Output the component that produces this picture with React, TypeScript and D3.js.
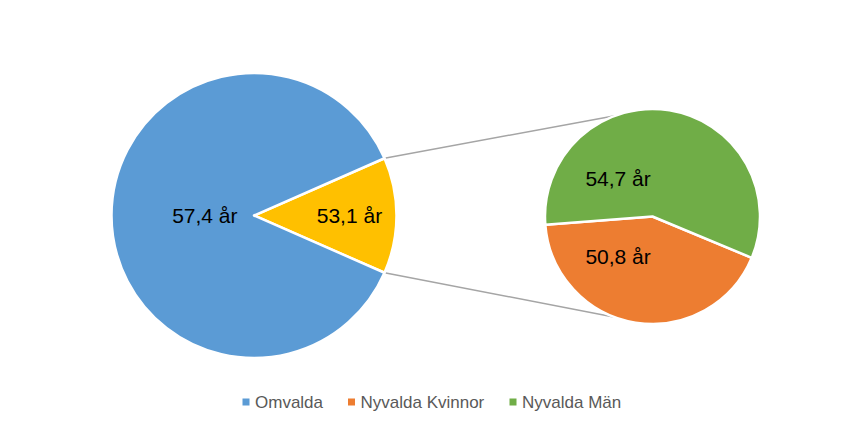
import React from "react";
import * as d3 from "d3";

const mainCategories = ["Nyvalda", "Omvalda"];
const mainValues = [40, 264];
const mainLabels = ["53,1 år", "57,4 år"];
const mainColors = ["#FFC000", "#5B9BD5"];

const subCategories = ["Nyvalda Kvinnor", "Nyvalda Män"];
const subValues = [17, 23];
const subLabels = ["50,8 år", "54,7 år"];
const subColors = ["#ED7D31", "#70AD47"];

const legendItems = ["Omvalda", "Nyvalda Kvinnor", "Nyvalda Män"];
const legendColors = ["#5B9BD5", "#ED7D31", "#70AD47"];

const W = 856;
const H = 433;

export default function App() {
  const mc = { x: 254, y: 215.5, r: 142.5 };
  const sc = { x: 652.5, y: 216.5, r: 107.5 };

  const total = d3.sum(mainValues);
  const yellowSpan = (mainValues[0] / total) * 2 * Math.PI;
  const mainStart = Math.PI / 2 - yellowSpan / 2;
  const mainPie = d3
    .pie<number>()
    .sort(null)
    .startAngle(mainStart)
    .endAngle(mainStart + 2 * Math.PI);
  const mainArcs = mainPie(mainValues);
  const mainArc = d3.arc<d3.PieArcDatum<number>>().innerRadius(0).outerRadius(mc.r);

  const subStart = (112.6 * Math.PI) / 180;
  const subPie = d3
    .pie<number>()
    .sort(null)
    .startAngle(subStart)
    .endAngle(subStart + 2 * Math.PI);
  const subArcs = subPie(subValues);
  const subArc = d3.arc<d3.PieArcDatum<number>>().innerRadius(0).outerRadius(sc.r);

  const pt = (c: { x: number; y: number; r: number }, a: number, f = 1) => [
    c.x + Math.sin(a) * c.r * f,
    c.y - Math.cos(a) * c.r * f,
  ];

  const y0 = mainArcs[0];
  const mTop = pt(mc, y0.startAngle);
  const mBot = pt(mc, y0.endAngle);
  const cAng = (20.4 * Math.PI) / 180;
  const sTop = pt(sc, -cAng);
  const sBot = pt(sc, Math.PI + cAng);

  const labelFont = "'Liberation Sans', Arial, sans-serif";

  // label offsets (fractions of radius)
  const mainLabelPos = [
    [mc.x + 0.67 * mc.r, mc.y],
    [mc.x - 0.345 * mc.r, mc.y],
  ];
  const subLabelPos = [
    [sc.x - 0.32 * sc.r, sc.y + 0.375 * sc.r],
    [sc.x - 0.32 * sc.r, sc.y - 0.35 * sc.r],
  ];

  const legendX = [242.5, 348, 509.5];

  return (
    <svg
      width={W}
      height={H}
      style={{ position: "fixed", left: 0, top: 0, background: "#fff" }}
    >
      <rect width={W} height={H} fill="#fff" />
      <line x1={mTop[0]} y1={mTop[1]} x2={sTop[0]} y2={sTop[1]} stroke="#A5A5A5" strokeWidth={1.5} />
      <line x1={mBot[0]} y1={mBot[1]} x2={sBot[0]} y2={sBot[1]} stroke="#A5A5A5" strokeWidth={1.5} />
      <g transform={`translate(${mc.x},${mc.y})`}>
        {mainArcs.map((a, i) => (
          <path key={mainCategories[i]} d={mainArc(a) || ""} fill={mainColors[i]} stroke="#fff" strokeWidth={2.5} strokeLinejoin="round" />
        ))}
      </g>
      <g transform={`translate(${sc.x},${sc.y})`}>
        {subArcs.map((a, i) => (
          <path key={subCategories[i]} d={subArc(a) || ""} fill={subColors[i]} stroke="#fff" strokeWidth={2.5} strokeLinejoin="round" />
        ))}
      </g>
      {mainLabels.map((t, i) => (
        <text key={t} x={mainLabelPos[i][0]} y={mainLabelPos[i][1]} textAnchor="middle" dominantBaseline="central" fontFamily={labelFont} fontSize={21} fill="#000">
          {t}
        </text>
      ))}
      {subLabels.map((t, i) => (
        <text key={t} x={subLabelPos[i][0]} y={subLabelPos[i][1]} textAnchor="middle" dominantBaseline="central" fontFamily={labelFont} fontSize={21} fill="#000">
          {t}
        </text>
      ))}
      {legendItems.map((t, i) => (
        <g key={t} transform={`translate(${legendX[i]},402)`}>
          <rect x={0} y={-3.5} width={7} height={7} fill={legendColors[i]} />
          <text x={12.5} y={0} dominantBaseline="central" fontFamily={labelFont} fontSize={17} fill="#595959">
            {t}
          </text>
        </g>
      ))}
    </svg>
  );
}
